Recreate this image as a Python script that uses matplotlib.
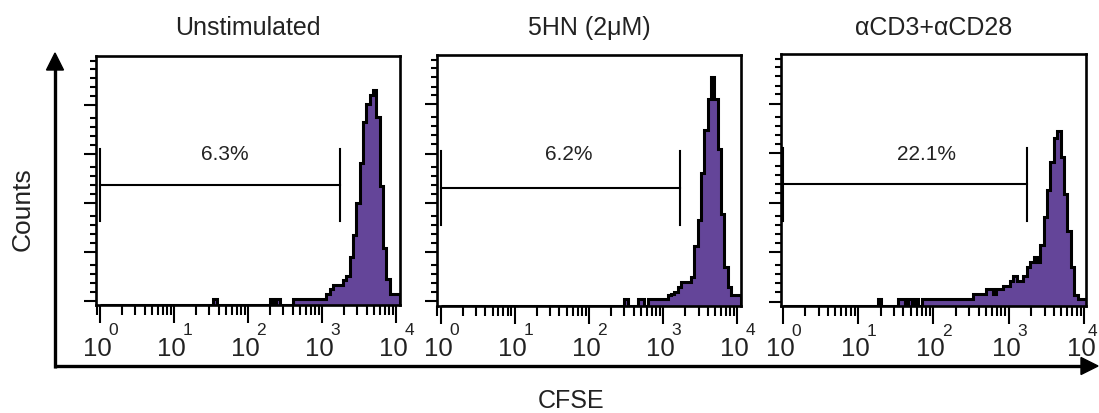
import numpy as np
import matplotlib
matplotlib.use("Agg")
import matplotlib.pyplot as plt
from matplotlib import transforms
from matplotlib.ticker import LogLocator, NullFormatter, FixedLocator
from matplotlib.patches import Polygon

plt.rcParams['font.family'] = ['Liberation Sans', 'DejaVu Sans']

# ---------------- data ----------------
titles = ["Unstimulated", "5HN (2μM)", "αCD3+αCD28"]
gate_pct = ["6.3%", "6.2%", "22.1%"]
gate_low = [1, 1, 1]
gate_high = [1750, 1680, 1770]
gate_level = [94.7, 92.0, 94.7]
decade_ticks = [1, 10, 100, 1000, 10000]
decade_exps = ["0", "1", "2", "3", "4"]
y_major = [0, 40, 80, 120, 160]

# channel counts, 90 log-spaced channels from 10^0 to 10^4.05
counts_unstim = [
    0, 0, 0, 0, 0, 0, 0, 0, 0, 0,
    0, 0, 0, 0, 0, 0, 0, 0, 0, 0,
    0, 0, 0, 0, 0, 0, 0, 0, 0, 0,
    0, 0, 0, 0, 2, 0, 0, 0, 0, 0,
    0, 0, 0, 0, 0, 0, 0, 0, 0, 0,
    0, 2, 0, 2, 0, 0, 0, 0, 2, 2,
    2, 2, 2, 2, 2, 2, 2, 2, 6, 10,
    13, 13, 13, 17, 20, 36, 54, 80, 113, 146,
    161, 168, 172, 150, 94, 43, 18, 6, 6, 6,
]
counts_5hn = [
    0, 0, 0, 0, 0, 0, 0, 0, 0, 0,
    0, 0, 0, 0, 0, 0, 0, 0, 0, 0,
    0, 0, 0, 0, 0, 0, 0, 0, 0, 0,
    0, 0, 0, 0, 0, 0, 0, 0, 0, 0,
    0, 0, 0, 0, 0, 0, 0, 0, 0, 0,
    0, 0, 0, 0, 0, 2, 0, 0, 0, 2,
    2, 0, 2, 2, 2, 2, 2, 2, 5, 6,
    8, 12, 16, 16, 16, 20, 45, 66, 104, 139,
    164, 182, 164, 124, 71, 28, 12, 5, 5, 5,
]
counts_cd3cd28 = [
    0, 0, 0, 0, 0, 0, 0, 0, 0, 0,
    0, 0, 0, 0, 0, 0, 0, 0, 0, 0,
    0, 0, 0, 0, 0, 0, 0, 0, 2, 0,
    0, 0, 0, 0, 2, 2, 0, 2, 0, 2,
    0, 2, 2, 2, 2, 2, 2, 2, 2, 2,
    2, 2, 2, 2, 2, 2, 6, 6, 6, 6,
    10, 10, 6, 10, 10, 13, 13, 17, 21, 17,
    17, 21, 28, 32, 36, 32, 46, 68, 90, 113,
    132, 138, 117, 87, 57, 28, 5, 2, 2, 2,
]
all_counts = [counts_unstim, counts_5hn, counts_cd3cd28]
channel_edges = 10 ** np.linspace(0, 4.05, 91)

# ---------------- layout ----------------
W, H = 1099, 414
fig = plt.figure(figsize=(W / 100, H / 100), dpi=100)

axes_px = [(96, 57, 400, 306), (437, 56, 741, 306.5), (781, 55, 1086, 306.7)]
xlims_log = [(-0.054, 4.054), (-0.05, 4.05), (-0.023, 4.027)]
pct_x_log = [1.68, 1.733, 1.903]
YLIM = (-3.3, 200)
purple = '#644599'
txt = '#222222'

# overlay for big axis arrows
ov = fig.add_axes([0, 0, 1, 1])
ov.set_xlim(0, W)
ov.set_ylim(H, 0)
ov.axis('off')
ov.plot([55, 55], [368.5, 68], color='black', lw=2.4, solid_capstyle='butt')
ov.add_patch(Polygon([[46.5, 71], [63.5, 71], [55, 54]], closed=True, color='black'))
ov.plot([53.5, 1082], [367, 367], color='black', lw=2.4, solid_capstyle='butt')
ov.add_patch(Polygon([[1081, 358.5], [1081, 375.5], [1098, 367]], closed=True, color='black'))

for i, (l, t, r, b) in enumerate(axes_px):
    ax = fig.add_axes([l / W, 1 - b / H, (r - l) / W, (b - t) / H])
    c = np.array(all_counts[i], dtype=float)
    shown = np.where(c > 0, c, YLIM[0])
    ax.stairs(shown, channel_edges, baseline=YLIM[0], fill=True, color=purple, zorder=2)
    ax.stairs(shown, channel_edges, baseline=YLIM[0], fill=False,
              color='black', lw=2.2, zorder=3)

    ax.set_xscale('log')
    ax.set_xlim(10 ** xlims_log[i][0], 10 ** xlims_log[i][1])
    ax.set_ylim(*YLIM)

    ax.xaxis.set_major_locator(FixedLocator(decade_ticks))
    ax.xaxis.set_minor_locator(LogLocator(base=10, subs=np.arange(2, 10), numticks=20))
    ax.xaxis.set_major_formatter(NullFormatter())
    ax.xaxis.set_minor_formatter(NullFormatter())
    ax.yaxis.set_major_locator(FixedLocator(y_major))
    ymin = []
    for m in y_major[:-1]:
        ymin += [m + 7.4, m + 14.7, m + 22.0, m + 29.4]
    ymin += [167.6, 174.4, 182.0, 189.4, 196.2]
    ax.yaxis.set_minor_locator(FixedLocator(ymin))
    ax.yaxis.set_major_formatter(NullFormatter())

    ax.tick_params(axis='x', which='major', direction='out', length=13, width=1.5,
                   bottom=True, top=False)
    ax.tick_params(axis='x', which='minor', direction='out', length=7, width=1.5,
                   bottom=True, top=False)
    ax.tick_params(axis='y', which='major', direction='out', length=8.6, width=1.5,
                   left=True, right=False)
    ax.tick_params(axis='y', which='minor', direction='out', length=4.3, width=1.5,
                   left=True, right=False)
    for s in ax.spines.values():
        s.set_linewidth(1.9)
        s.set_zorder(5)

    # decade labels 10^n
    base_tr = transforms.offset_copy(ax.get_xaxis_transform(), fig=fig, x=-2.5,
                                     y=-(356.0 - b), units='dots')
    for k, (v, e) in enumerate(zip(decade_ticks, decade_exps)):
        ax.text(v, 0, "10", transform=base_tr, ha='center', va='baseline',
                fontsize=18.5, color=txt, clip_on=False)
        dx = 4.0 if (i == len(axes_px) - 1 and k == len(decade_ticks) - 1) else 8.5
        exp_tr = transforms.offset_copy(ax.get_xaxis_transform(), fig=fig, x=dx,
                                        y=-(335.5 - b), units='dots')
        ax.text(v, 0, e, transform=exp_tr, ha='left', va='baseline',
                fontsize=12.5, color=txt, clip_on=False)

    # gate
    lv = gate_level[i]
    ax.plot([gate_low[i], gate_high[i]], [lv, lv], color='black', lw=1.5, zorder=4)
    for gx in (gate_low[i], gate_high[i]):
        ax.plot([gx, gx], [lv - 29.7, lv + 29.7], color='black', lw=1.5, zorder=4)
    ax.text(10 ** pct_x_log[i], 120, gate_pct[i], ha='center', va='center',
            fontsize=15, color=txt)

    fig.text(((l + r) / 2) / W, 1 - 35 / H, titles[i], ha='center', va='baseline',
             fontsize=18, color=txt)

fig.text(23 / W, 1 - 209 / H, "Counts", rotation=90, ha='center', va='center',
         fontsize=19, color=txt)
fig.text(571 / W, 1 - 408 / H, "CFSE", ha='center', va='baseline',
         fontsize=18, color=txt)

fig.savefig("out.png", dpi=100)
